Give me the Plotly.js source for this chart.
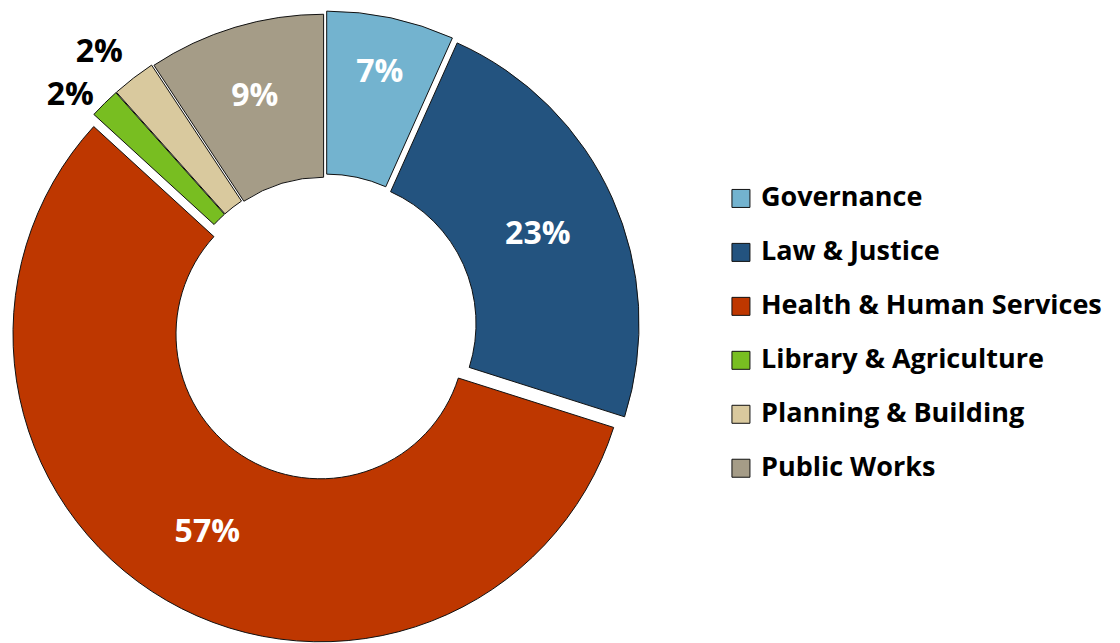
<!DOCTYPE html>
<html>
<head>
<meta charset="utf-8">
<script src="https://cdn.plot.ly/plotly-3.0.1.min.js"></script>
<style>
  html, body { margin: 0; padding: 0; background: #ffffff; overflow: hidden; }
  #chart { width: 1120px; height: 643px; }
</style>
</head>
<body>
<div id="chart"></div>
<script>
// ---- data ----
const categories = ["Governance", "Law & Justice", "Health & Human Services",
                    "Library & Agriculture", "Planning & Building", "Public Works"];
const shares = [6.7, 23.2, 56.9, 1.6, 2.3, 9.3];
const sliceColors = ["#73B3CF", "#23537F", "#BE3700", "#78BE21", "#D9C99E", "#A59C87"];
const slicePull = [0.026, 0.023, 0.029, 0.02, 0.02, 0.016];
const labelPositions = ["inside", "inside", "inside", "outside", "outside", "inside"];

const FONT = "'Open Sans', Lato, sans-serif";

// legend entries: bigger text on a two-line item to get the wide row spacing
const legendLabels = categories.map(c => '<span style="font-size:27px">' + c + '</span><br> ');

const trace = {
  type: "pie",
  labels: legendLabels,
  values: shares,
  sort: false,
  direction: "clockwise",
  rotation: 0,
  hole: 0.47,
  pull: slicePull,
  marker: { colors: sliceColors, line: { color: "#111111", width: 1 } },
  texttemplate: "%{percent:.0%}",
  textposition: labelPositions,
  insidetextorientation: "horizontal",
  insidetextfont: { family: FONT, size: 32, color: "#ffffff", weight: "bold" },
  outsidetextfont: { family: FONT, size: 32, color: "#000000", weight: "bold" },
  hoverinfo: "skip",
  domain: { x: [0.0076, 0.5728], y: [0, 0.9844] }
};

const layout = {
  width: 1120,
  height: 643,
  margin: { l: 0, r: 0, t: 0, b: 0 },
  paper_bgcolor: "#ffffff",
  showlegend: true,
  legend: {
    x: 0.6437, xanchor: "left",
    y: 0.7213, yanchor: "top",
    valign: "top",
    font: { family: FONT, size: 19.6, color: "#000000", weight: "bold" },
    bgcolor: "rgba(0,0,0,0)",
    borderwidth: 0
  }
};

Plotly.newPlot("chart", [trace], layout, { staticPlot: true }).then(function () {
  document.querySelectorAll("path.legendpie").forEach(function (p) {
    p.setAttribute("d", "M9,9V-9H-9V9Z");
  });
  document.querySelectorAll("path.textline").forEach(function (p) {
    p.style.display = "none";
  });
});
</script>
</body>
</html>
